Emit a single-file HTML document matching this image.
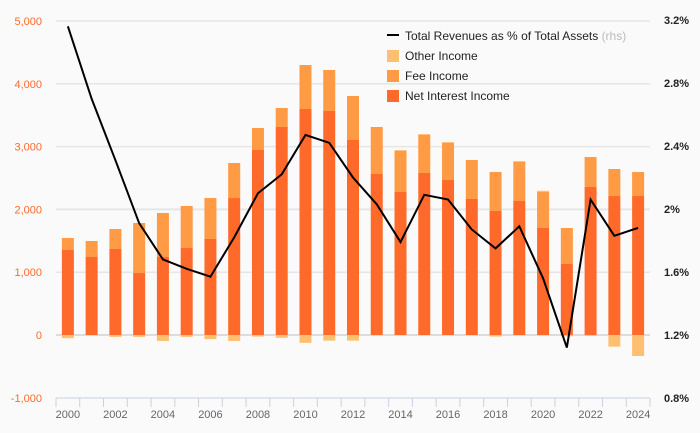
<!DOCTYPE html>
<html><head><meta charset="utf-8"><style>
html,body{margin:0;padding:0;background:#fafafa}
svg{display:block;font-family:"Liberation Sans",sans-serif}
</style></head><body>
<svg id="c" width="700" height="433"></svg>
<script>
const years=[2000,2001,2002,2003,2004,2005,2006,2007,2008,2009,2010,2011,2012,2013,2014,2015,2016,2017,2018,2019,2020,2021,2022,2023,2024];
const netInterest=[1354,1242,1370,987,1242,1385,1529,2181,2946,3312,3599,3567,3105,2564,2277,2580,2468,2166,1975,2134,1704,1131,2357,2213,2213];
const feeIncome=[191,255,318,796,701,669,652,558,350,303,700,653,701,748,653,605,589,621,621,621,573,573,477,430,383];
const otherIncome=[-50,0,-30,-30,-95,-30,-65,-95,-25,-45,-125,-90,-90,0,15,15,15,0,-25,15,20,-20,-10,-185,-335];
const revPct=[3.16,2.70,2.31,1.91,1.68,1.62,1.57,1.82,2.10,2.22,2.47,2.42,2.20,2.03,1.79,2.09,2.06,1.87,1.75,1.89,1.56,1.12,2.06,1.83,1.88];
const leftTicks=[-1000,0,1000,2000,3000,4000,5000];
const rightTicks=[0.8,1.2,1.6,2.0,2.4,2.8,3.2];
const rightLabels=["0.8%","1.2%","1.6%","2%","2.4%","2.8%","3.2%"];

const svg=document.getElementById('c');const NS='http://www.w3.org/2000/svg';
function mk(t,a,p){const e=document.createElementNS(NS,t);for(const k in a)e.setAttribute(k,a[k]);(p||svg).appendChild(e);return e;}
const X0=56,X1=650,band=(X1-X0)/years.length;
const y=v=>335-v*0.0628;
const yr=p=>398-(p-0.8)*157.5;
const xc=i=>X0+band*(i+0.5);
leftTicks.forEach((t,i)=>{
 if(t>-1000){const g=mk('line',{x1:X0,x2:X1,y1:y(t),y2:y(t),stroke:t===0?'#dcdcdc':'#e6e6e6','stroke-width':t===0||t===2000?2:1.5});
 }
 const l=mk('text',{x:42,y:y(t)+4,'text-anchor':'end','font-size':11,fill:'#ff6a2a'});l.textContent=t.toLocaleString('en-US');
 
});
rightTicks.forEach((t,i)=>{const l=mk('text',{x:664,y:yr(t)+4,'font-size':11,fill:'#222','font-weight':'bold'});l.textContent=rightLabels[i];
 });
const ax=mk('line',{x1:X0,x2:X1,y1:398,y2:398,stroke:'#c8d2e0','stroke-width':1});

for(let i=0;i<=years.length;i++){const t=mk('line',{x1:X0+band*i,x2:X0+band*i,y1:398,y2:407,stroke:'#c8d2e0'});
 }
years.forEach((yy,i)=>{
 const bw=12,x=xc(i)-bw/2;
 const n=netInterest[i],f=feeIncome[i],o=otherIncome[i];
 const r1=mk('rect',{x,y:y(n),width:bw,height:y(0)-y(n),fill:'#ff6a2a'});
 
 const r2=mk('rect',{x,y:y(n+f),width:bw,height:y(n)-y(n+f),fill:'#ff9a45'});
 
 if(o!==0){const top=o>0?y(n+f+o):y(0),h=Math.abs(o)*0.0628;
  const r3=mk('rect',{x,y:top,width:bw,height:h,fill:'#ffbf70'});
  }
 if(i%2===0){const l=mk('text',{x:xc(i),y:418,'text-anchor':'middle','font-size':11,fill:'#666'});l.textContent=yy;
  }
});
const line=mk('polyline',{points:revPct.map((p,i)=>xc(i)+','+yr(p)).join(' '),fill:'none',stroke:'#000','stroke-width':2});

const lg=mk('g',{});
const ll=mk('line',{x1:387,x2:399,y1:35,y2:35,stroke:'#000','stroke-width':2},lg);

const lt=mk('text',{x:405,y:40,'font-size':12,fill:'#222'},lg);lt.innerHTML='Total Revenues as % of Total Assets <tspan fill="#bbb">(rhs)</tspan>';

[['Other Income','#ffbf70'],['Fee Income','#ff9a45'],['Net Interest Income','#ff6a2a']].forEach((d,i)=>{
 const yy=50+i*20;
 const s=mk('rect',{x:387,y:yy,width:12,height:12,fill:d[1]},lg);
 
 const t=mk('text',{x:405,y:yy+10,'font-size':12,fill:'#222'},lg);t.textContent=d[0];
 
});
</script>
</body></html>
